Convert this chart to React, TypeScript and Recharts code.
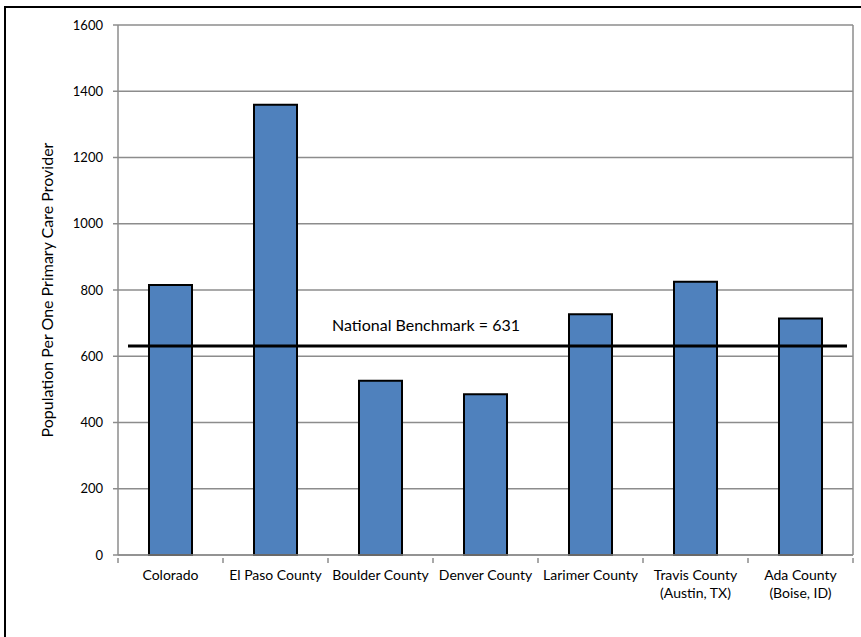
import React from 'react';
import {
    BarChart,
    Bar,
    XAxis,
    YAxis,
    CartesianGrid,
    ReferenceLine,
} from 'recharts';

// Population per one primary care provider, by county
const REGIONS = [
    'Colorado',
    'El Paso County',
    'Boulder County',
    'Denver County',
    'Larimer County',
    'Travis County\n(Austin, TX)',
    'Ada County\n(Boise, ID)',
];
const POP_PER_PROVIDER = [815, 1359, 526, 485, 727, 825, 714];
const NATIONAL_BENCHMARK = 631;
const Y_TICKS = [0, 200, 400, 600, 800, 1000, 1200, 1400, 1600];

const data = REGIONS.map((name, i) => ({ name, value: POP_PER_PROVIDER[i] }));

const FONT = 'Lato, "Noto Sans", sans-serif';
const GRID = '#8c8c8c';
const BAR_FILL = '#4f81bd';

const CHART_W = 861;
const CHART_H = 637;
const X_AXIS_H = 60;
const MARGIN = { top: 25, right: 8, bottom: 22, left: 30 };
const Y_AXIS_W = 88;
const BAND = (CHART_W - MARGIN.left - Y_AXIS_W - MARGIN.right) / REGIONS.length;

// category labels can span two lines; tick marks sit between categories
const CategoryTick = (props: any) => {
    const { x, y, payload, index } = props;
    const lines = String(payload.value).split('\n');
    const left = x - BAND / 2;
    return (
        <g>
            <line x1={left} y1={y - 5} x2={left} y2={y} stroke={GRID} strokeWidth={1.5} />
            {index === REGIONS.length - 1 && (
                <line x1={left + BAND} y1={y - 5} x2={left + BAND} y2={y} stroke={GRID} strokeWidth={1.5} />
            )}
            {lines.map((ln, i) => (
                <text
                    key={i}
                    x={x}
                    y={y + 17 + i * 18}
                    textAnchor="middle"
                    fontSize={14}
                    fontFamily={FONT}
                    fill="#000"
                >
                    {ln}
                </text>
            ))}
        </g>
    );
};

// benchmark line is drawn a little inside the plot edges
const BenchmarkShape = (props: any) => {
    const { x1, x2, y1, y2 } = props;
    return <line x1={x1 + 10} y1={y1} x2={x2 - 6} y2={y2} stroke="#000" strokeWidth={3} />;
};

const BenchmarkLabel = (props: any) => {
    const { viewBox } = props;
    return (
        <text
            x={viewBox.x + 214}
            y={viewBox.y - 15}
            fontSize={16}
            fontFamily={FONT}
            fill="#000"
        >
            {`National Benchmark = ${NATIONAL_BENCHMARK}`}
        </text>
    );
};

const App: React.FC = () => {
    return (
        <div
            style={{
                position: 'absolute',
                left: 0,
                top: 0,
                width: CHART_W,
                height: CHART_H,
                overflow: 'hidden',
                background: '#fff',
            }}
        >
            <div
                style={{
                    position: 'absolute',
                    left: 4,
                    top: 6,
                    width: 900,
                    height: 700,
                    border: '2px solid #000',
                }}
            />
            <div style={{ position: 'absolute', left: 0, top: 0 }}>
                <BarChart width={CHART_W} height={CHART_H} data={data} margin={MARGIN}>
                    <CartesianGrid
                        stroke={GRID}
                        strokeWidth={1.5}
                        vertical
                        verticalCoordinatesGenerator={({ offset }: any) => [offset.left + offset.width]}
                    />
                    <XAxis
                        dataKey="name"
                        interval={0}
                        axisLine={{ stroke: GRID, strokeWidth: 1.5 }}
                        tickLine={false}
                        tick={<CategoryTick />}
                        height={X_AXIS_H}
                    />
                    <YAxis
                        width={Y_AXIS_W}
                        domain={[0, 1600]}
                        ticks={Y_TICKS}
                        interval={0}
                        axisLine={{ stroke: GRID, strokeWidth: 1.5 }}
                        tickLine={{ stroke: GRID, strokeWidth: 1.5 }}
                        tickSize={5}
                        tickMargin={10}
                        tick={{ fontSize: 13, fontFamily: FONT, fill: '#000' }}
                        label={{
                            value: 'Population Per One Primary Care Provider',
                            angle: -90,
                            position: 'insideLeft',
                            offset: 17,
                            style: { textAnchor: 'middle', fontSize: 16, fontFamily: FONT, fill: '#000' },
                        }}
                    />
                    <Bar
                        dataKey="value"
                        fill={BAR_FILL}
                        stroke="#000"
                        strokeWidth={2}
                        barSize={43}
                        isAnimationActive={false}
                    />
                    <ReferenceLine
                        y={NATIONAL_BENCHMARK}
                        shape={<BenchmarkShape />}
                        label={<BenchmarkLabel />}
                    />
                </BarChart>
            </div>
        </div>
    );
};

export default App;
